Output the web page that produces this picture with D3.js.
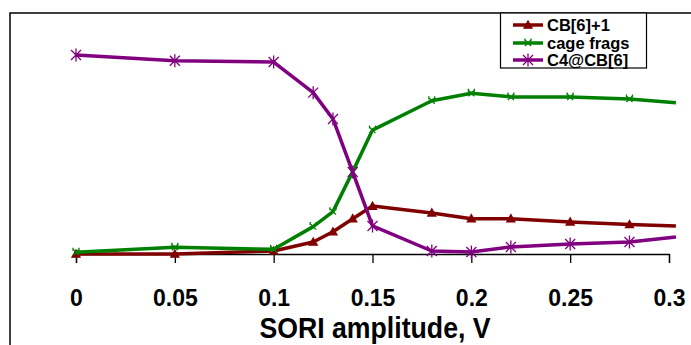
<!DOCTYPE html>
<meta charset="utf-8">
<style>
  body { margin: 0; background: #fff; }
  text { font-family: "Liberation Sans", Arial, sans-serif; font-weight: bold; fill: #000; }
</style>
<script src="https://d3js.org/d3.v7.min.js"></script>
<div id="chart"></div>
<script>
// data (relative intensity, arbitrary units)
var amplitude = [0, 0.05, 0.1, 0.12, 0.13, 0.14, 0.15, 0.18, 0.2, 0.22, 0.25, 0.28, 0.3035]
var cb6 = [0, 0, 1.4, 5.6, 10.4, 16.5, 22.4, 19.2, 16.5, 16.5, 15.0, 13.8, 13.1]
var cageFrags = [0.8, 3.1, 2.2, 12.8, 19.8, 38.5, 57.9, 71.6, 75.1, 73.4, 73.4, 72.4, 70.7]
var c4cb6 = [93.0, 90.3, 89.7, 75.4, 63.1, 38.3, 13.1, 1.4, 0.9, 3.3, 4.7, 5.6, 7.9]
var xTicks = [0, 0.05, 0.1, 0.15, 0.2, 0.25, 0.3]
var seriesNames = ["CB[6]+1", "cage frags", "C4@CB[6]"]

var width = 691, height = 345

var svg = d3.select("#chart").append("svg")
  .attr("width", width)
  .attr("height", height)

var x = d3.scaleLinear().domain([0, 0.3]).range([76, 669])
var y = d3.scaleLinear().domain([0, 100]).range([254, 40])

// frame (top and left edges only)
svg.append("path")
  .attr("d", "M10,345V13H691")
  .attr("fill", "none")
  .attr("stroke", "#000")
  .attr("stroke-width", 1.5)

// x axis
var xAxis = svg.append("g")
  .attr("transform", "translate(0,254)")
  .call(d3.axisBottom(x).tickValues(xTicks).tickSize(9).tickFormat(d3.format("")))
xAxis.select(".domain").attr("stroke", "#000").attr("stroke-width", 1.3)
xAxis.selectAll(".tick line").attr("stroke", "#000").attr("stroke-width", 1.3)
xAxis.selectAll(".tick text")
  .attr("y", 52)
  .attr("dy", 0)
  .style("font-size", "23px")
  .style("font-family", "'Liberation Sans', Arial, sans-serif")
  .style("font-weight", "bold")

svg.append("text")
  .attr("transform", "translate(375,338) scale(0.92,1)")
  .attr("text-anchor", "middle")
  .style("font-size", "29px")
  .text("SORI amplitude, V")

// marker shapes
function triangle(s) { return "M0," + (-s) + "L" + s + "," + (s * 0.8) + "L" + (-s) + "," + (s * 0.8) + "Z" }
function cross(s) {
  return "M" + (-s) + "," + (-s) + "L" + s + "," + s + "M" + (-s) + "," + s + "L" + s + "," + (-s) +
    "M" + (-s) + "," + (-s + 1.5) + "V" + (-s - 1.5) + "M" + s + "," + (-s + 1.5) + "V" + (-s - 1.5)
}
function star(s) {
  return "M" + (-s) + "," + (-s) + "L" + s + "," + s + "M" + (-s) + "," + s + "L" + s + "," + (-s) +
    "M0," + (-s * 1.3) + "V" + (s * 1.3)
}

var series = [
  { name: seriesNames[0], values: cb6, color: "#800000", marker: function () { return triangle(4) }, fill: true },
  { name: seriesNames[1], values: cageFrags, color: "#008000", marker: function () { return cross(3) }, fill: false },
  { name: seriesNames[2], values: c4cb6, color: "#800080", marker: function () { return star(5) }, fill: false }
]

var line = d3.line()
  .x(function (d) { return x(d[0]) })
  .y(function (d) { return y(d[1]) })

series.forEach(function (s) {
  var pts = amplitude.map(function (a, i) { return [a, s.values[i]] })
  svg.append("path")
    .datum(pts)
    .attr("d", line)
    .attr("fill", "none")
    .attr("stroke", s.color)
    .attr("stroke-width", 3.5)
    .attr("stroke-linejoin", "round")

  // no marker on the point past the last tick (it sits at the clipped edge)
  svg.selectAll(null)
    .data(pts.filter(function (d) { return d[0] <= 0.3 }))
    .enter()
    .append("path")
    .attr("transform", function (d) { return "translate(" + x(d[0]) + "," + y(d[1]) + ")" })
    .attr("d", s.marker)
    .attr("fill", s.fill ? s.color : "none")
    .attr("stroke", s.color)
    .attr("stroke-width", 1.3)
})

// legend
svg.append("rect")
  .attr("x", 500.5).attr("y", 13)
  .attr("width", 146).attr("height", 55)
  .attr("fill", "#fff")
  .attr("stroke", "#000")
  .attr("stroke-width", 1.2)

var rowY = [25, 43, 60]
series.forEach(function (s, i) {
  var g = svg.append("g").attr("transform", "translate(0," + rowY[i] + ")")
  g.append("line")
    .attr("x1", 513).attr("x2", 543)
    .attr("stroke", s.color).attr("stroke-width", 3.5)
  g.append("path")
    .attr("transform", "translate(528,0)")
    .attr("d", s.marker)
    .attr("fill", s.fill ? s.color : "none")
    .attr("stroke", s.color)
    .attr("stroke-width", 1.3)
  g.append("text")
    .attr("x", 547)
    .attr("y", 6)
    .style("font-size", "16.5px")
    .text(s.name)
})
</script>
